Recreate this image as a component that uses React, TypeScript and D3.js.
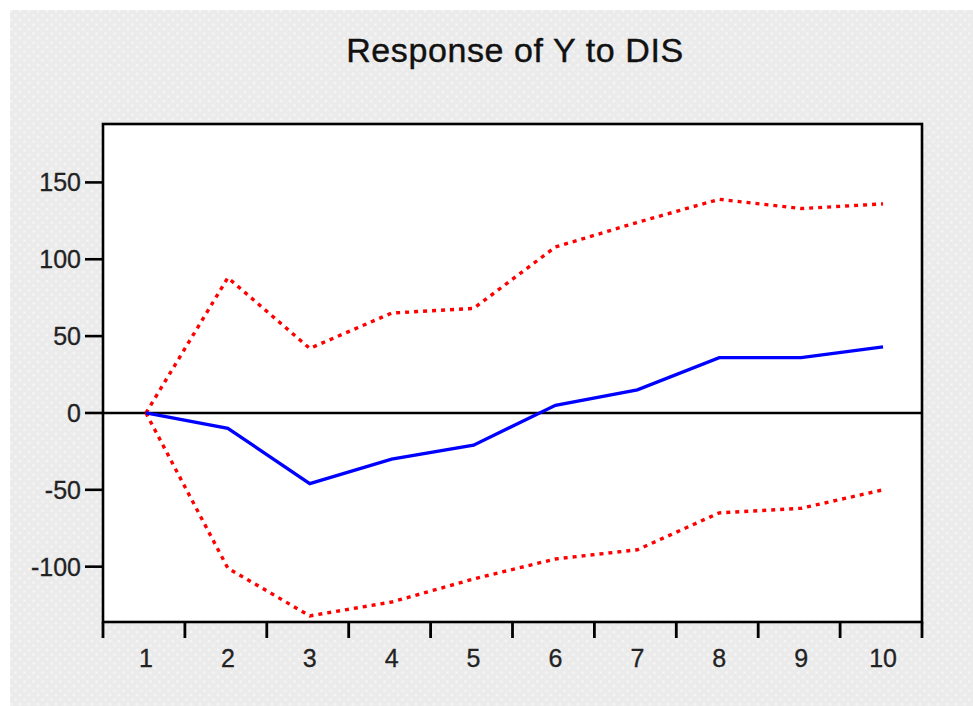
import React from "react";
import * as d3 from "d3";

const periods = [1, 2, 3, 4, 5, 6, 7, 8, 9, 10];
const response = [0, -10, -46, -30, -21, 5, 15, 36, 36, 43];
const upperBand = [0, 88, 42, 65, 68, 108, 124, 139, 133, 136];
const lowerBand = [0, -101, -132, -123, -108, -95, -89, -65, -62, -50];
const yTicks = [-100, -50, 0, 50, 100, 150];
const title = "Response of Y to DIS";

const W = 973;
const H = 706;
const plot = { left: 103, right: 922, top: 124, bottom: 622 };

export default function App() {
  const x = d3
    .scaleBand<number>()
    .domain(periods)
    .range([plot.left, plot.right])
    .paddingInner(0)
    .paddingOuter(0);
  const y = d3.scaleLinear().domain([-136, 188]).range([plot.bottom, plot.top]);
  const cx = (p: number) => (x(p) as number) + x.bandwidth() / 2 + 2;

  const line = d3
    .line<number>()
    .x((_, i) => cx(periods[i]))
    .y((d) => y(d));

  const boundaries = [...periods.map((p) => x(p) as number), plot.right];
  const font = "'Liberation Sans', Arial, sans-serif";

  return (
    <svg
      width={W}
      height={H}
      style={{ position: "absolute", left: 0, top: 0, display: "block" }}
    >
      <defs>
        <pattern id="dots" width="9" height="9" patternUnits="userSpaceOnUse">
          <rect width="9" height="9" fill="#ebebeb" />
          <circle cx="2" cy="2" r="1.6" fill="#f4f4f4" />
          <circle cx="6.5" cy="6.5" r="1.6" fill="#f3f3f3" />
        </pattern>
      </defs>
      <rect x={0} y={0} width={W} height={H} fill="#ffffff" />
      <rect x={10} y={10} width={W - 10} height={H - 10} fill="url(#dots)" />
      <text
        x={515}
        y={62}
        textAnchor="middle"
        fontFamily={font}
        fontSize={34}
        letterSpacing={0.6}
        stroke="#111"
        strokeWidth={0.4}
        fill="#111"
      >
        {title}
      </text>
      <rect
        x={plot.left}
        y={plot.top}
        width={plot.right - plot.left}
        height={plot.bottom - plot.top}
        fill="#ffffff"
      />
      <line
        x1={plot.left}
        x2={plot.right}
        y1={y(0)}
        y2={y(0)}
        stroke="#000"
        strokeWidth={2.4}
      />
      <path
        d={line(upperBand) || ""}
        fill="none"
        stroke="#ff0000"
        strokeWidth={3.4}
        strokeDasharray="4 5"
      />
      <path
        d={line(lowerBand) || ""}
        fill="none"
        stroke="#ff0000"
        strokeWidth={3.4}
        strokeDasharray="4 5"
      />
      <path
        d={line(response) || ""}
        fill="none"
        stroke="#0000ff"
        strokeWidth={3.3}
      />
      <rect
        x={plot.left}
        y={plot.top}
        width={plot.right - plot.left}
        height={plot.bottom - plot.top}
        fill="none"
        stroke="#000"
        strokeWidth={2.6}
      />
      {yTicks.map((t) => (
        <g key={t}>
          <line
            x1={plot.left - 18}
            x2={plot.left}
            y1={y(t)}
            y2={y(t)}
            stroke="#000"
            strokeWidth={2.6}
          />
          <text
            x={81}
            y={y(t)}
            dy="0.36em"
            textAnchor="end"
            fontFamily={font}
            fontSize={25}
            stroke="#222"
            strokeWidth={0.3}
            fill="#222"
          >
            {t}
          </text>
        </g>
      ))}
      {boundaries.map((b, i) => (
        <line
          key={i}
          x1={b}
          x2={b}
          y1={plot.bottom}
          y2={plot.bottom + 16}
          stroke="#000"
          strokeWidth={2.8}
        />
      ))}
      {periods.map((p) => (
        <text
          key={p}
          x={cx(p)}
          y={667}
          textAnchor="middle"
          fontFamily={font}
          fontSize={25}
          stroke="#222"
          strokeWidth={0.3}
          fill="#222"
        >
          {p}
        </text>
      ))}
    </svg>
  );
}
